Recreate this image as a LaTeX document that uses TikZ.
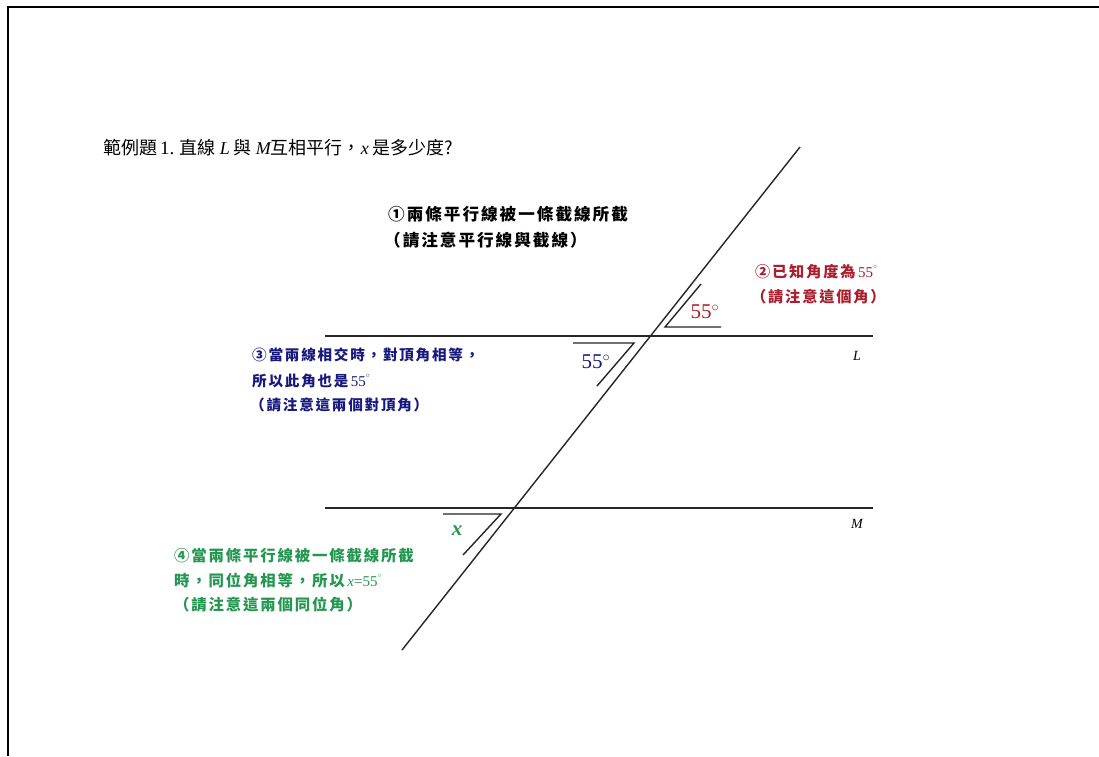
\documentclass[tikz,border=0pt]{standalone}
\usepackage{fontspec}
\setmainfont{Liberation Serif}
\newfontfamily\cjk{Noto Sans CJK TC}
\newfontfamily\cjkb[LetterSpace=12]{Noto Sans CJK TC}
\definecolor{nred}{RGB}{170,30,45}
\definecolor{nblue}{RGB}{25,25,125}
\definecolor{ngreen}{RGB}{35,150,80}
\tikzset{
  ln/.style={line width=1.4pt,black!85},
  mk/.style={line width=1.4pt,black!85},
  note/.style={anchor=west,inner sep=0pt},
  anglab/.style={inner sep=0pt,font=\fontsize{21}{22}\selectfont},
  linelab/.style={inner sep=0pt,font=\itshape\fontsize{14}{16}\selectfont}
}
\begin{document}
\begin{tikzpicture}[x=1pt,y=-1pt]
\useasboundingbox (0,0) rectangle (1099,756);
\fill[white] (0,0) rectangle (1099,756);
\draw[line width=2pt] (7.5,756) -- (7.5,6.5) -- (1099,6.5);

% title
\node[anchor=west,inner sep=0pt,font=\cjk\fontsize{18}{20}\selectfont] (title) at (103,148)
  {範例題\,{\rmfamily\fontsize{19}{20}\selectfont 1.} 直線 {\rmfamily\itshape L} 與 {\rmfamily\itshape M}互相平行，{\rmfamily\itshape x} 是多少度?};

% lines
\coordinate (T1) at (800,147);
\coordinate (T2) at (402,650);
\coordinate (L1) at (325,336);
\coordinate (L2) at (873,336);
\coordinate (M1) at (325,508);
\coordinate (M2) at (873,508);
\draw[ln] (T1) -- (T2);
\draw[ln] (L1) -- (L2);
\draw[ln] (M1) -- (M2);
\node[linelab] (Llab) at (857,356) {L};
\node[linelab] (Mlab) at (857,524) {M};

% angle marks
\draw[mk] (721,327) -- (665,327) -- (701,284);
\draw[mk] (573,343) -- (634,343) -- (597,386);
\draw[mk] (443,514) -- (501,514) -- (463,555);

\node[anglab,text=nred] (a1) at (705,312) {55$^{\circ}$};
\node[anglab,text=nblue] (a2) at (596,362) {55$^{\circ}$};
\node[anglab,text=ngreen,font=\bfseries\itshape\fontsize{21}{22}\selectfont] (a3) at (457,531) {x};

% note 1
\node[note,text=black,font=\cjkb\bfseries\fontsize{16.6}{18}\selectfont] (n1a) at (388,214) {①兩條平行線被一條截線所截};
\node[note,text=black,font=\cjkb\bfseries\fontsize{16.6}{18}\selectfont] (n1b) at (384,240) {（請注意平行線與截線）};

% note 2
\node[note,text=nred,font=\cjkb\bfseries\fontsize{15.2}{17}\selectfont] (n2a) at (755,272) {②已知角度為\,{\rmfamily\mdseries\fontsize{15}{15}\selectfont 55$^{^\circ}$}};
\node[note,text=nred,font=\cjkb\bfseries\fontsize{15.2}{17}\selectfont] (n2b) at (751,297) {（請注意這個角）};

% note 3
\node[note,text=nblue,font=\cjkb\bfseries\fontsize{14.6}{16}\selectfont] (n3a) at (252,355) {③當兩線相交時，對頂角相等，};
\node[note,text=nblue,font=\cjkb\bfseries\fontsize{14.6}{16}\selectfont] (n3b) at (252,381) {所以此角也是\,{\rmfamily\mdseries\fontsize{15}{15}\selectfont 55$^{^\circ}$}};
\node[note,text=nblue,font=\cjkb\bfseries\fontsize{14.6}{16}\selectfont] (n3c) at (250,405) {（請注意這兩個對頂角）};

% note 4
\node[note,text=ngreen,font=\cjkb\bfseries\fontsize{15.4}{17}\selectfont] (n4a) at (174,556) {④當兩條平行線被一條截線所截};
\node[note,text=ngreen,font=\cjkb\bfseries\fontsize{15.4}{17}\selectfont] (n4b) at (174,581) {時，同位角相等，所以\,{\rmfamily\mdseries\fontsize{15}{15}\selectfont\itshape x\upshape =55$^{^\circ}$}};
\node[note,text=ngreen,font=\cjkb\bfseries\fontsize{15.4}{17}\selectfont] (n4c) at (174,605) {（請注意這兩個同位角）};
\end{tikzpicture}
\end{document}
